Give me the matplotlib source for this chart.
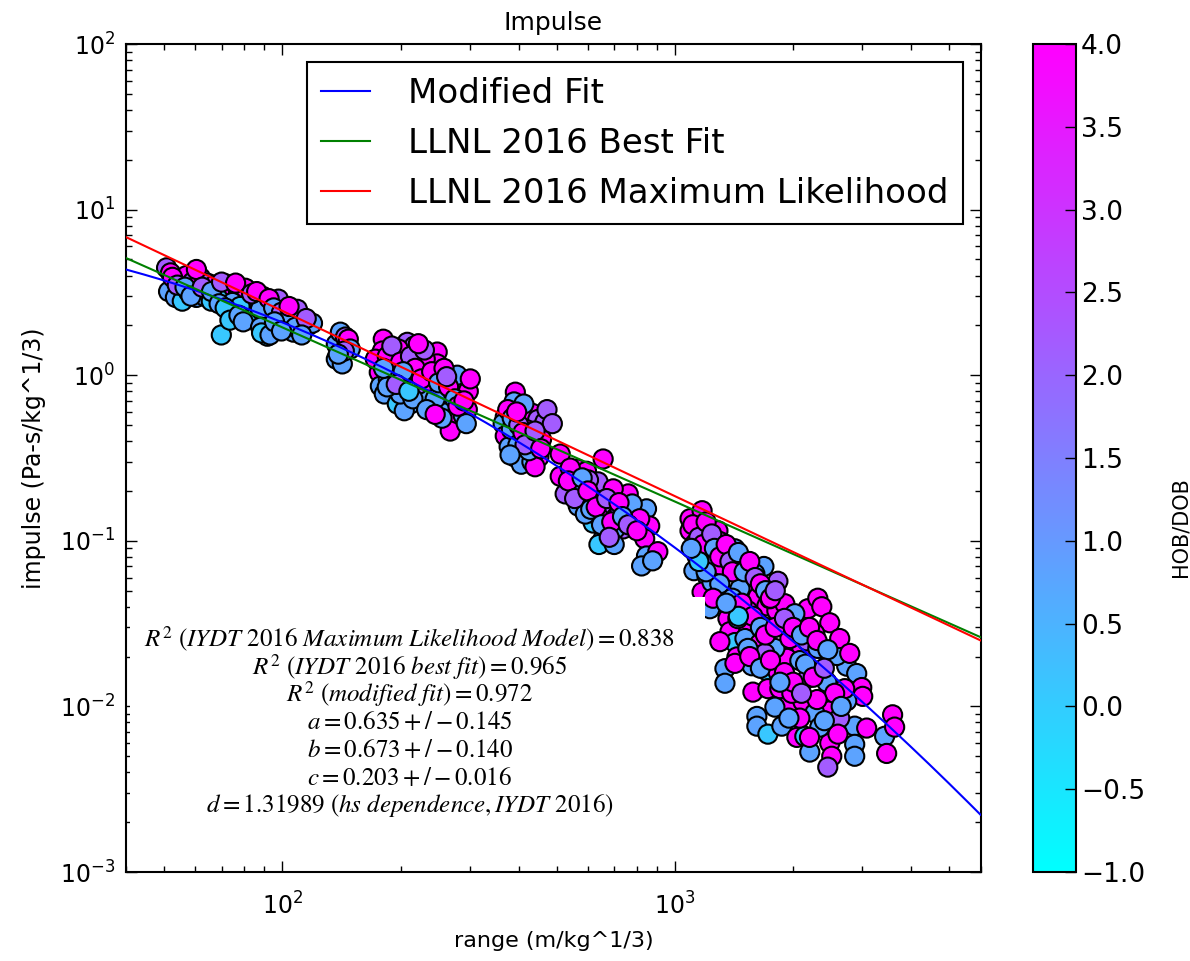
import numpy as np
import matplotlib
matplotlib.use("Agg")
import matplotlib.pyplot as plt
from matplotlib.patches import Rectangle

plt.rcParams['mathtext.fontset'] = 'stix'

# scaled range (m/kg^1/3), scaled impulse (Pa-s/kg^1/3), HOB/DOB
range_m = [
    # ~50-120
    50.7, 51.9, 51.3, 53.4, 55.6, 55.0, 57.0, 59.0, 60.4, 61.8, 63.3, 64.4, 65.9, 67.1,
    68.7, 70.3, 69.9, 72.0, 73.3, 75.0, 77.3, 79.1, 81.0, 82.9, 84.4, 85.9, 87.4, 89.0,
    89.5, 91.6, 91.1, 93.8, 96.0, 98.3, 100.6, 103.0, 105.4, 106.7, 109.2, 111.8, 113.8,
    116.5, 119.3, 109.2, 57.6, 74.6, 80.5, 97.7, 60.4, 87.9,
    52.5, 54.0, 56.5, 58.5, 62.5, 66.0, 70.0, 76.0, 78.0, 83.5, 86.0, 92.5, 95.0, 99.5,
    102.0, 104.0, 108.0, 115.0, 69.0, 71.5, 73.5, 77.5, 79.5, 88.0, 88.5, 93.0, 95.5,
    99.5, 112.0,
    # ~140
    137.2, 140.5, 144.7, 147.2, 137.2, 142.1, 148.9, 143.8, 138.8,
    # ~170-300
    180.7, 179.7, 208.0, 205.6, 216.7, 197.4, 247.9, 247.9, 227.1, 228.4, 176.5, 177.6,
    181.8, 196.2, 211.7, 204.4, 242.1, 237.9, 272.4, 283.8, 297.5, 262.8, 272.4, 267.6,
    288.9, 295.8, 278.8, 211.7, 224.4, 190.5, 193.9, 231.1, 221.8, 252.3, 259.8, 301.0,
    186.1, 199.7, 245.0, 235.2, 172.5, 294.0,
    185, 190, 200, 212, 218, 203, 185, 215, 226, 240, 250, 258, 265, 275, 280, 290, 255,
    233, 195, 181, 262, 230, 222, 245, 210,
    # ~360-490
    392, 389, 369.5, 365, 432, 447, 466, 369.5, 378, 392, 406, 432, 450, 432, 440, 383,
    412, 472, 418, 398, 457, 487,
    375, 385, 400, 410, 425, 395, 415, 380, 440, 455,
    # ~500-900
    510, 510, 564, 595, 656, 637, 574, 619, 567, 684, 760, 664, 738, 656, 712, 696, 846,
    862, 837, 846, 822, 904, 877, 619, 550, 602, 541, 725, 778, 644, 591, 525, 813, 704,
    535, 555, 580, 600, 610, 630, 650, 670, 690, 720, 735, 760, 800, 640, 700, 680,
    # ~1000-3600
    1092, 1092, 1172, 1124, 1137, 1117, 1206, 1286, 1301, 1249, 1271, 1316, 1421, 1507,
    1684, 1551, 1828, 1714, 1626, 1332, 1172, 1227, 1397, 1533, 1714, 1849, 1364, 1490,
    1380, 1421, 1675, 1817, 1996, 2179, 2310, 2365, 2478, 1301, 1438, 1340, 1340, 1570,
    1714, 1579, 1724, 1849, 1828, 1996, 2116, 2179, 1938, 2116, 1984, 2436, 2478, 2737,
    2902, 2989, 3006, 2737, 2868, 3077, 1616, 1616, 1724, 1871, 2043, 2141, 2379, 2478,
    2478, 2478, 2507, 2449, 2204, 2868, 2868, 3419, 3459, 3582, 3625, 2104, 2166, 2310,
    1927, 2079, 2582, 1507, 1645, 1796, 1961, 1463, 1597, 1744, 1904, 2019, 2270, 2627,
    2705, 2270, 2079, 1796, 2337, 2627, 1242, 1446, 1694, 2786, 1421, 1533,
    1110, 1150, 1180, 1200, 1240, 1260, 1300, 1350, 1380, 1400, 1450, 1500, 1550, 1600,
    1650, 1700, 1750, 1800, 1300, 1250, 1400, 1480, 1580, 1650, 1700, 1800, 1900, 2000,
    2100, 2200, 2300, 2450, 1550, 1650, 1750, 1900, 2000, 2150, 2250, 2400, 2550, 2650,
    2300, 2100, 1850, 1950, 2200, 2600, 2400, 1450, 1350, 1200, 1150, 1100,
]

impulse = [
    4.45, 4.15, 3.2, 2.95, 2.8, 3.8, 4.0, 3.65, 2.95, 3.9, 3.0, 3.6, 2.8, 3.5,
    3.3, 3.0, 1.75, 3.55, 3.0, 3.4, 3.2, 2.88, 3.3, 2.95, 2.42, 2.75, 2.65, 3.0,
    1.98, 1.72, 2.25, 2.55, 2.35, 2.7, 2.25, 2.45, 2.18, 1.82, 2.1, 2.25, 1.9,
    2.0, 2.06, 2.5, 3.2, 2.75, 3.35, 2.88, 4.35, 2.5,
    3.9, 3.5, 3.4, 3.0, 3.4, 3.2, 3.65, 3.6, 2.6, 3.1, 3.2, 2.9, 2.55, 2.4,
    2.1, 2.6, 1.95, 2.2, 2.7, 2.55, 2.15, 2.3, 2.1, 1.95, 1.8, 1.75, 2.1,
    1.85, 1.75,
    1.54, 1.82, 1.70, 1.65, 1.25, 1.17, 1.44, 1.40, 1.34,
    1.65, 1.40, 1.58, 1.34, 1.50, 1.44, 1.38, 1.17, 1.20, 1.01, 1.04, 0.86,
    0.77, 0.67, 0.67, 0.61, 0.85, 0.72, 0.95, 0.82, 0.80, 0.65, 0.54, 0.46,
    0.57, 0.62, 1.0, 0.91, 0.79, 1.12, 0.95, 1.25, 0.88, 1.01, 0.77, 0.95,
    0.95, 0.77, 0.72, 0.92, 1.25, 0.51,
    1.30, 1.50, 1.20, 1.30, 1.10, 1.05, 0.85, 0.72, 0.95, 1.05, 0.90, 1.10, 0.85, 0.72,
    0.65, 0.70, 0.55, 0.62, 0.88, 1.10, 0.98, 1.42, 1.55, 0.58, 0.80,
    0.79, 0.69, 0.56, 0.51, 0.59, 0.54, 0.52, 0.43, 0.37, 0.32, 0.29, 0.41, 0.32, 0.30,
    0.28, 0.47, 0.67, 0.62, 0.47, 0.38, 0.41, 0.51,
    0.62, 0.55, 0.50, 0.45, 0.35, 0.60, 0.38, 0.33, 0.46, 0.36,
    0.334, 0.245, 0.271, 0.263, 0.312, 0.227, 0.197, 0.179, 0.162, 0.167, 0.192, 0.114,
    0.118, 0.103, 0.141, 0.206, 0.156, 0.123, 0.103, 0.081, 0.0705, 0.086, 0.0757, 0.128,
    0.213, 0.233, 0.275, 0.150, 0.167, 0.136, 0.145, 0.192, 0.136, 0.118,
    0.23, 0.18, 0.24, 0.20, 0.155, 0.16, 0.125, 0.18, 0.13, 0.17, 0.14, 0.125, 0.115,
    0.095, 0.095, 0.105,
    0.136, 0.115, 0.152, 0.096, 0.081, 0.066, 0.0616, 0.115, 0.099, 0.082, 0.074, 0.066,
    0.0895, 0.0756, 0.070, 0.0551, 0.057, 0.050, 0.0457, 0.0457, 0.049, 0.0389, 0.041,
    0.0378, 0.0405, 0.0334, 0.0339, 0.0287, 0.0283, 0.0243, 0.0305, 0.0378, 0.0295,
    0.0389, 0.0450, 0.0400, 0.0320, 0.0246, 0.0199, 0.0169, 0.0138, 0.0176, 0.0164,
    0.0122, 0.0128, 0.0128, 0.0162, 0.0203, 0.0189, 0.0148, 0.0101, 0.0107, 0.0120,
    0.0140, 0.0203, 0.0175, 0.0158, 0.0130, 0.0115, 0.0108, 0.0076, 0.0074, 0.0087,
    0.0076, 0.0068, 0.0076, 0.0065, 0.0066, 0.0094, 0.0094, 0.0070, 0.0060, 0.0050,
    0.0043, 0.0053, 0.0059, 0.0050, 0.0066, 0.0052, 0.0089, 0.0075, 0.0224, 0.0249,
    0.0224, 0.0195, 0.0189, 0.0203, 0.0257, 0.0240, 0.0224, 0.0257, 0.0514, 0.0633,
    0.0447, 0.0417, 0.0363, 0.0275, 0.0257, 0.0128, 0.0091, 0.0085, 0.0099, 0.0075,
    0.0085, 0.0563, 0.0339, 0.0209, 0.0209, 0.0182, 0.0224,
    0.125, 0.105, 0.095, 0.13, 0.11, 0.09, 0.08, 0.095, 0.075, 0.065, 0.085, 0.065,
    0.075, 0.06, 0.055, 0.05, 0.045, 0.05, 0.055, 0.045, 0.045, 0.042, 0.035, 0.03,
    0.027, 0.03, 0.034, 0.03, 0.027, 0.03, 0.025, 0.022, 0.02, 0.017, 0.019, 0.016,
    0.014, 0.018, 0.015, 0.017, 0.012, 0.010, 0.011, 0.012, 0.014, 0.0085, 0.0065,
    0.0068, 0.0082, 0.035, 0.042, 0.065, 0.075, 0.09,
]

hob = [
    2.2, 4.0, 0.8, 0.8, 0.1, 2.2, 4.0, 2.2, 0.8, 4.0, 0.8, 2.2, 0.1, 4.0,
    2.2, 0.8, 0.1, 4.0, 0.1, 4.0, 2.2, 0.8, 4.0, 2.2, 0.1, 0.8, 4.0, 2.2,
    0.8, 0.1, 0.8, 2.2, 0.8, 2.2, 4.0, 0.8, 2.2, 0.8, 4.0, 2.2, 0.8,
    4.0, 0.8, 2.2, 0.8, 0.8, 4.0, 2.2, 4.0, 0.8,
    4.0, 2.2, 0.8, 0.8, 2.2, 0.8, 2.2, 4.0, 0.1, 2.2, 4.0, 4.0, 0.8, 2.2,
    0.8, 4.0, 0.8, 2.2, 0.8, 0.1, 0.1, 0.8, 0.8, 0.8, 0.1, 0.8, 0.8,
    0.8, 0.8,
    0.8, 0.8, 2.2, 4.0, 0.8, 0.8, 0.8, 2.2, 0.8,
    4.0, 4.0, 2.2, 2.2, 2.2, 4.0, 4.0, 4.0, 2.2, 2.2, 4.0, 0.8,
    0.8, 0.1, 0.8, 0.8, 4.0, 4.0, 0.8, 0.8, 4.0, 0.8, 4.0, 4.0,
    0.8, 4.0, 0.8, 4.0, 0.8, 0.8, 4.0, 4.0, 2.2, 2.2, 0.8, 4.0,
    0.8, 0.8, 0.8, 4.0, 4.0, 0.8,
    4.0, 2.2, 4.0, 2.2, 4.0, 0.8, 0.8, 0.8, 4.0, 4.0, 0.8, 4.0, 4.0, 0.8,
    4.0, 4.0, 0.8, 0.8, 2.2, 0.8, 2.2, 2.2, 4.0, 4.0, 0.1,
    4.0, 0.8, 4.0, 0.8, 4.0, 2.2, 2.2, 4.0, 0.8, 0.8, 0.8, 2.2, 4.0, 0.8,
    4.0, 0.8, 0.8, 2.2, 4.0, 0.8, 4.0, 2.2,
    4.0, 0.8, 2.2, 4.0, 0.8, 4.0, 2.2, 0.8, 2.2, 4.0,
    4.0, 4.0, 4.0, 4.0, 4.0, 2.2, 0.8, 4.0, 0.8, 2.2, 4.0, 0.8,
    2.2, 0.8, 0.8, 4.0, 0.8, 4.0, 4.0, 0.8, 0.8, 4.0, 0.8, 0.1,
    0.8, 2.2, 4.0, 2.2, 0.8, 4.0, 0.8, 2.2, 4.0, 0.8,
    4.0, 2.2, 0.8, 4.0, 0.8, 4.0, 0.8, 2.2, 4.0, 4.0, 0.8, 2.2, 4.0,
    0.1, 0.8, 2.2,
    4.0, 4.0, 4.0, 0.8, 0.8, 0.8, 0.1, 4.0, 4.0, 2.2, 2.2, 4.0,
    0.8, 2.2, 0.8, 4.0, 2.2, 4.0, 4.0, 4.0, 4.0, 0.8, 4.0,
    4.0, 4.0, 4.0, 4.0, 4.0, 4.0, 0.1, 0.8, 4.0, 2.2,
    4.0, 4.0, 4.0, 4.0, 4.0, 4.0, 0.8, 0.8, 0.8, 0.1,
    4.0, 4.0, 4.0, 4.0, 0.8, 2.2, 2.2, 4.0, 4.0, 4.0,
    0.8, 0.8, 0.8, 0.8, 4.0, 4.0, 0.8, 0.8, 4.0, 0.8,
    0.8, 0.1, 0.8, 4.0, 0.1, 4.0, 4.0, 2.2, 4.0, 4.0,
    2.2, 0.8, 0.8, 0.8, 0.8, 4.0, 4.0, 4.0, 4.0, 2.2,
    0.8, 4.0, 0.8, 0.8, 0.8, 4.0, 0.8, 4.0, 0.8, 0.8,
    2.2, 4.0, 0.8, 4.0, 4.0, 4.0, 0.8, 4.0, 0.8, 0.8,
    2.2, 0.8, 0.8, 2.2, 4.0, 4.0, 0.8,
    4.0, 2.2, 4.0, 4.0, 2.2, 0.8, 4.0, 4.0, 2.2, 4.0, 0.8, 0.8,
    4.0, 2.2, 4.0, 0.8, 4.0, 2.2, 0.8, 4.0, 0.8, 4.0, 4.0, 0.8,
    4.0, 4.0, 2.2, 4.0, 0.8, 4.0, 4.0, 0.8, 4.0, 0.8, 4.0, 4.0,
    4.0, 0.8, 4.0, 2.2, 4.0, 0.8, 4.0, 2.2, 0.8, 0.8, 4.0,
    4.0, 0.8, 0.1, 0.8, 0.8, 0.1, 0.8,
]

# fit lines: impulse = A * range^-b (LLNL), log-quadratic for the modified fit
red_A, red_b = 423.0, 1.119
green_A, green_b = 247.0, 1.052
mod_c0, mod_c1, mod_c2, mod_ref = -0.548, -1.52, -0.40, 500.0

stats_lines = [
    r'$R^2\ (IYDT\ 2016\ Maximum\ Likelihood\ Model) = 0.838$',
    r'$R^2\ (IYDT\ 2016\ best\ fit) = 0.965$',
    r'$R^2\ (modified\ fit) = 0.972$',
    r'$a = 0.635 +/- 0.145$',
    r'$b = 0.673 +/- 0.140$',
    r'$c = 0.203 +/- 0.016$',
    r'$d = 1.31989\ (hs\ dependence, IYDT\ 2016)$',
]

fig = plt.figure(figsize=(11.9, 9.61), dpi=100)
ax = fig.add_axes([0.106, 0.0926, 0.718, 0.8616])
cax = fig.add_axes([1033 / 1190, 0.0926, 43 / 1190, 0.8616])

sc = ax.scatter(range_m, impulse, c=hob, cmap='cool', vmin=-1, vmax=4, s=190,
                edgecolors='black', linewidths=1.5, zorder=2)

xx = np.logspace(np.log10(40), np.log10(6000), 300)
L = np.log10(xx / mod_ref)
ax.plot(xx, 10 ** (mod_c0 + mod_c1 * L + mod_c2 * L ** 2), color='blue', lw=1.5,
        label='Modified Fit', zorder=3)
ax.plot(xx, green_A * xx ** (-green_b), color='green', lw=1.5,
        label='LLNL 2016 Best Fit', zorder=3)
ax.plot(xx, red_A * xx ** (-red_b), color='red', lw=1.5,
        label='LLNL 2016 Maximum Likelihood', zorder=3)

ax.set_xscale('log')
ax.set_yscale('log')
ax.set_xlim(40, 6000)
ax.set_ylim(1e-3, 1e2)

for sp in ax.spines.values():
    sp.set_linewidth(1.5)
ax.tick_params(which='both', direction='in', top=True, right=True)
ax.tick_params(which='major', length=8, width=1, labelsize=17, pad=8)
ax.tick_params(which='minor', length=4, width=1)
ax.tick_params(axis='x', which='major', pad=15)

ax.set_title('Impulse', fontsize=18, pad=10)
ax.set_xlabel('range (m/kg^1/3)', fontsize=16, labelpad=8)
ax.set_ylabel('impulse (Pa-s/kg^1/3)', fontsize=17, labelpad=10)

leg = ax.legend(loc='upper right', bbox_to_anchor=(0.979, 0.978), fontsize=24.5,
                fancybox=False, edgecolor='black', framealpha=1, borderaxespad=0,
                handlelength=1.45, handletextpad=1.1, labelspacing=0.5, borderpad=0.42)
leg.get_frame().set_linewidth(1.5)

ax.add_patch(Rectangle((0.005, 0.057), 0.673, 0.275, transform=ax.transAxes,
                       facecolor='white', edgecolor='none', zorder=4))
# one text per line so the rows sit at an even spacing
for i, line in enumerate(stats_lines):
    ax.text(0.332, 0.2814 - i * 0.0335, line, transform=ax.transAxes, ha='center',
            va='center', fontsize=18, zorder=5)

cb = fig.colorbar(sc, cax=cax, ticks=np.arange(-1, 4.01, 0.5))
cb.set_label('HOB/DOB', fontsize=15)
cax.yaxis.set_label_coords(3.2, 0.417)
cax.tick_params(direction='in', labelsize=19, length=8, width=1)
cb.outline.set_linewidth(1.5)

fig.savefig('out.png', dpi=100)
